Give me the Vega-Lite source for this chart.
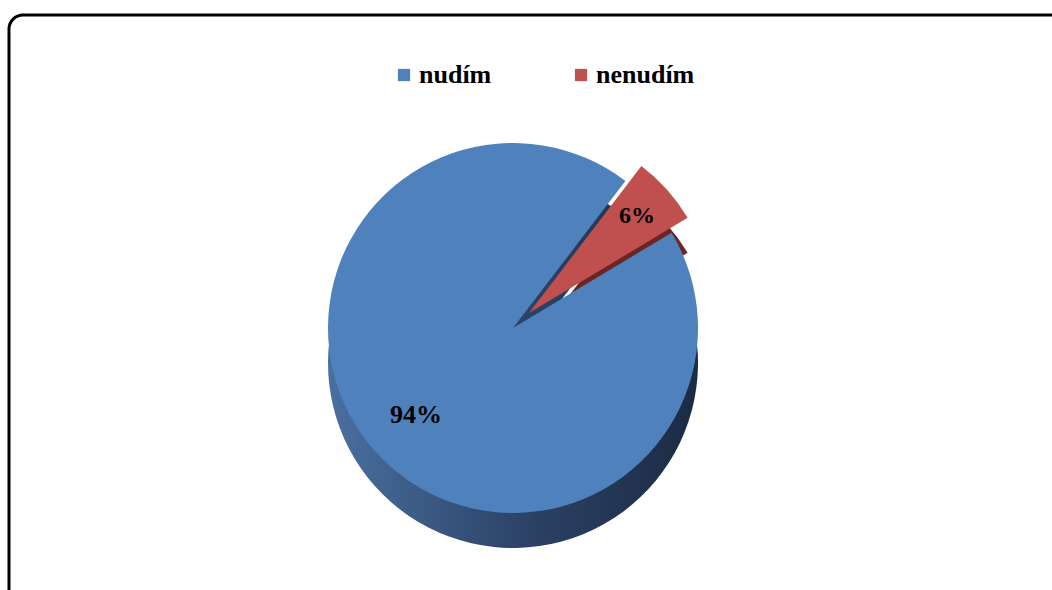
{
  "$schema": "https://vega.github.io/schema/vega-lite/v6.json",
  "autosize": "none",
  "padding": {"left": 9, "top": 15, "right": 0, "bottom": 0},
  "width": 1060,
  "height": 590,
  "background": "white",
  "config": {
    "view": {"stroke": null},
    "legend": {
      "orient": "none",
      "legendX": 382,
      "legendY": 47,
      "direction": "horizontal",
      "symbolType": "square",
      "symbolSize": 150,
      "symbolStrokeWidth": 0,
      "labelFont": "Liberation Serif",
      "labelFontWeight": "bold",
      "labelFontSize": 26,
      "labelColor": "#000000",
      "labelOffset": 2,
      "columnPadding": 76
    }
  },
  "data": {
    "values": [
      {"answer": "nudím", "share": 94},
      {"answer": "nenudím", "share": 6}
    ]
  },
  "transform": [
    {"stack": "share", "groupby": [], "sort": [{"field": "share", "order": "ascending"}], "as": ["start", "end"]},
    {"calculate": "(datum.start + datum.end) / 2", "as": "mid"},
    {"calculate": "datum.share + '%'", "as": "label"}
  ],
  "layer": [
    {
      "data": {"values": [{"frame": 1}]},
      "transform": [],
      "mark": {"type": "rect", "fill": null, "stroke": "#000000", "strokeWidth": 3, "cornerRadius": 14},
      "encoding": {
        "x": {"value": 0},
        "x2": {"value": "width"},
        "y": {"value": 0},
        "y2": {"value": "height"}
      }
    },
    {
      "transform": [{"filter": "datum.answer === 'nudím'"}],
      "mark": {
        "type": "arc",
        "radius": 185,
        "xOffset": -26,
        "yOffset": 53,
        "fill": {
          "gradient": "linear",
          "x1": 0, "x2": 1, "y1": 0, "y2": 0,
          "stops": [
            {"offset": 0, "color": "#4a70a0"},
            {"offset": 0.55, "color": "#2b4165"},
            {"offset": 1, "color": "#1c2b44"}
          ]
        }
      },
      "encoding": {
        "theta": {"field": "start", "type": "quantitative", "scale": {"domain": [0, 100], "range": [0.653, 6.936]}},
        "theta2": {"field": "end"}
      }
    },
    {
      "transform": [{"filter": "datum.answer === 'nenudím'"}],
      "mark": {"type": "arc", "radius": 185, "xOffset": -10, "yOffset": 38, "fill": "#6b2524"},
      "encoding": {
        "theta": {"field": "start", "type": "quantitative"},
        "theta2": {"field": "end"}
      }
    },
    {
      "transform": [{"filter": "datum.answer === 'nudím'"}],
      "mark": {"type": "arc", "radius": 185, "xOffset": -26, "yOffset": 18},
      "encoding": {
        "theta": {"field": "start", "type": "quantitative"},
        "theta2": {"field": "end"},
        "color": {
          "field": "answer",
          "type": "nominal",
          "title": null,
          "scale": {"domain": ["nudím", "nenudím"], "range": ["#4f81bd", "#c0504d"]}
        }
      }
    },
    {
      "transform": [{"filter": "datum.answer === 'nenudím'"}],
      "mark": {"type": "arc", "radius": 185, "xOffset": -10, "yOffset": 3},
      "encoding": {
        "theta": {"field": "start", "type": "quantitative"},
        "theta2": {"field": "end"},
        "color": {"field": "answer", "type": "nominal", "title": null}
      }
    },
    {
      "transform": [{"filter": "datum.answer === 'nudím'"}],
      "mark": {
        "type": "text",
        "radius": 130,
        "xOffset": -26,
        "yOffset": 18,
        "font": "Liberation Serif",
        "fontWeight": "bold",
        "fontSize": 26,
        "color": "#000000"
      },
      "encoding": {
        "theta": {"field": "mid", "type": "quantitative"},
        "text": {"field": "label"}
      }
    },
    {
      "transform": [{"filter": "datum.answer === 'nenudím'"}],
      "mark": {
        "type": "text",
        "radius": 145,
        "xOffset": -10,
        "yOffset": 3,
        "font": "Liberation Serif",
        "fontWeight": "bold",
        "fontSize": 24,
        "color": "#000000"
      },
      "encoding": {
        "theta": {"field": "mid", "type": "quantitative"},
        "text": {"field": "label"}
      }
    }
  ]
}
